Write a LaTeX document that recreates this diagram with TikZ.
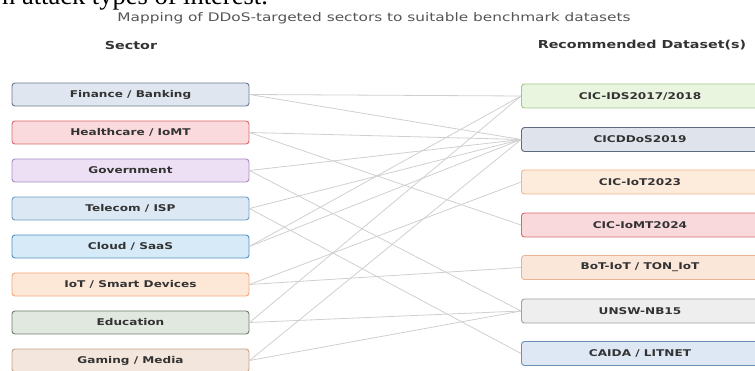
\documentclass[tikz,border=0pt]{standalone}
\usepackage{fontspec}
\setmainfont{Liberation Serif}
\newfontfamily\figsans[FakeStretch=1.3]{DejaVu Sans}

% palette
\definecolor{txt}{HTML}{333333}
\definecolor{titlegray}{HTML}{555555}
\definecolor{linkgray}{HTML}{CFCFCF}
\definecolor{finF}{HTML}{E0E6F0}\definecolor{finD}{HTML}{6B7A8F}
\definecolor{hcF}{HTML}{FADADD}\definecolor{hcD}{HTML}{D9696B}
\definecolor{govF}{HTML}{EDE0F5}\definecolor{govD}{HTML}{A88BC0}
\definecolor{telF}{HTML}{DCE9F5}\definecolor{telD}{HTML}{6E9CC4}
\definecolor{cldF}{HTML}{D6EAF8}\definecolor{cldD}{HTML}{4E91C6}
\definecolor{iotF}{HTML}{FDE8D8}\definecolor{iotD}{HTML}{F0A878}
\definecolor{eduF}{HTML}{E1E8DF}\definecolor{eduD}{HTML}{6F7D6C}
\definecolor{gamF}{HTML}{F3E6DC}\definecolor{gamD}{HTML}{C4A48A}
\definecolor{idsF}{HTML}{EAF5E0}\definecolor{idsD}{HTML}{9FC98A}
\definecolor{ddosF}{HTML}{DFE3EC}\definecolor{ddosD}{HTML}{5D6A80}
\definecolor{ciotF}{HTML}{FDEBDC}\definecolor{ciotD}{HTML}{F2B48A}
\definecolor{iomtF}{HTML}{F9D9DB}\definecolor{iomtD}{HTML}{D8676D}
\definecolor{botF}{HTML}{FBE7DA}\definecolor{botD}{HTML}{EAB394}
\definecolor{unswF}{HTML}{EEEEEE}\definecolor{unswD}{HTML}{A0A0A0}
\definecolor{caidaF}{HTML}{DDE8F4}\definecolor{caidaD}{HTML}{6B8FB5}

\begin{document}
\begin{tikzpicture}[x=1pt,y=-1pt,
  sectorbox/.style={draw, rounded corners=3pt, line width=0.9pt,
    minimum width=237pt, minimum height=23pt, inner sep=0pt,
    font=\figsans\bfseries\fontsize{9.3}{10}\selectfont, text=txt},
  databox/.style={sectorbox, minimum height=24pt},
  link/.style={draw=linkgray, line width=0.8pt},
  colhead/.style={font=\figsans\bfseries\fontsize{11}{12}\selectfont, text=txt}]

\useasboundingbox (0,0) rectangle (755,371);
\clip (0,0) rectangle (755,371);

% running text of the page above the figure
\node[anchor=base west, inner sep=0pt, font=\fontsize{26.5}{30}\selectfont]
  (pagetext) at (2,5) {n attack types of interest.};

% title and column headings
\node[font=\figsans\fontsize{11.8}{13}\selectfont, text=titlegray]
  (title) at (374,18) {Mapping of DDoS-targeted sectors to suitable benchmark datasets};
\node[colhead] (hsector) at (131,45) {Sector};
\node[colhead] (hdata) at (642,45) {Recommended Dataset(s)};

% sectors
\node[sectorbox, fill=finF, draw=finD] (fin) at (130.5,94.5) {Finance / Banking};
\node[sectorbox, fill=hcF,  draw=hcD]  (hc)  at (130.5,132.5) {Healthcare / IoMT};
\node[sectorbox, fill=govF, draw=govD] (gov) at (130.5,170.5) {Government};
\node[sectorbox, fill=telF, draw=telD] (tel) at (130.5,208.5) {Telecom / ISP};
\node[sectorbox, fill=cldF, draw=cldD] (cld) at (130.5,246.5) {Cloud / SaaS};
\node[sectorbox, fill=iotF, draw=iotD] (iot) at (130.5,284.5) {IoT / Smart Devices};
\node[sectorbox, fill=eduF, draw=eduD] (edu) at (130.5,322.5) {Education};
\node[sectorbox, fill=gamF, draw=gamD] (gam) at (130.5,360.5) {Gaming / Media};

% datasets
\node[databox, fill=idsF,   draw=idsD]   (ids)   at (640,96)  {CIC-IDS2017/2018};
\node[databox, fill=ddosF,  draw=ddosD]  (ddos)  at (640,139.5) {CICDDoS2019};
\node[databox, fill=ciotF,  draw=ciotD]  (ciot)  at (640,182) {CIC-IoT2023};
\node[databox, fill=iomtF,  draw=iomtD]  (iomt)  at (640,225) {CIC-IoMT2024};
\node[databox, fill=botF,   draw=botD]   (bot)   at (640,267.5) {BoT-IoT / TON\_IoT};
\node[databox, fill=unswF,  draw=unswD]  (unsw)  at (640,311) {UNSW-NB15};
\node[databox, fill=caidaF, draw=caidaD] (caida) at (640,353.5) {CAIDA / LITNET};

% sector-to-dataset links
\foreach \s/\d in {fin/ids, fin/ddos, hc/ddos, hc/iomt, gov/ddos, gov/unsw,
                   tel/ddos, tel/caida, cld/ids, cld/ddos, iot/ciot, iot/bot,
                   edu/ids, edu/unsw, gam/ddos, gam/unsw}
  \draw[link] (\s.east) -- (\d.west);
\end{tikzpicture}
\end{document}
